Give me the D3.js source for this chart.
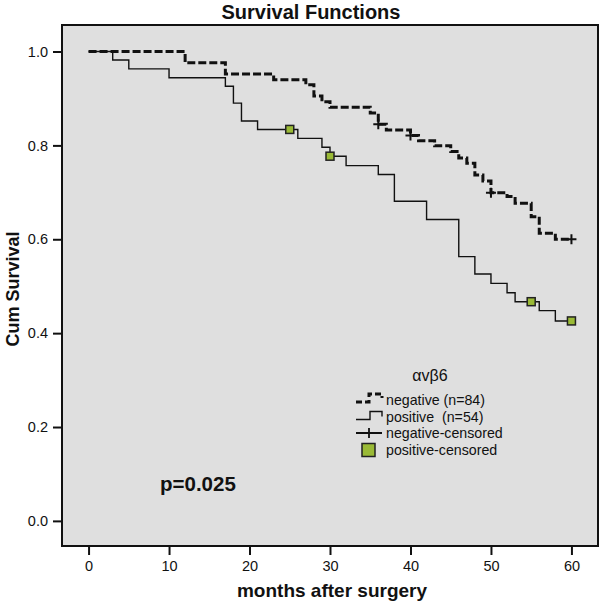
<!DOCTYPE html>
<html>
<head>
<meta charset="utf-8">
<script src="https://cdn.jsdelivr.net/npm/d3@7"></script>
<style>
  html, body { margin: 0; padding: 0; background: #ffffff; }
  svg { display: block; }
  text { font-family: Arial, "Liberation Sans", Helvetica, sans-serif; fill: #111; }
</style>
</head>
<body>
<svg id="chart" width="600" height="602"></svg>
<script>
// ---- data ----
const negTimes = [0, 12, 17, 23, 27, 28, 29, 30, 35, 36, 37, 40, 41, 43, 45, 46, 47, 48, 49, 50, 52, 53, 55, 56, 58];
const negSurv  = [1.0, 0.976, 0.952, 0.940, 0.929, 0.905, 0.893, 0.881, 0.869, 0.845, 0.833, 0.821, 0.810, 0.799, 0.787, 0.773, 0.762, 0.737, 0.724, 0.699, 0.691, 0.677, 0.648, 0.613, 0.600];
const negEnd = 60;
const negCensTimes = [36, 40, 50, 60];
const negCensSurv  = [0.845, 0.821, 0.699, 0.600];

const posTimes = [0, 3, 5, 10, 17, 18, 19, 21, 26, 29, 30, 32, 36, 38, 42, 46, 48, 50, 52, 53, 56, 58];
const posSurv  = [1.0, 0.982, 0.963, 0.944, 0.926, 0.890, 0.852, 0.834, 0.815, 0.796, 0.777, 0.757, 0.738, 0.681, 0.642, 0.563, 0.526, 0.506, 0.486, 0.467, 0.448, 0.426];
const posEnd = 60;
const posCensTimes = [25, 30, 55, 60];
const posCensSurv  = [0.834, 0.777, 0.467, 0.426];

const xTicks = [0, 10, 20, 30, 40, 50, 60];
const yTicks = [0.0, 0.2, 0.4, 0.6, 0.8, 1.0];

const titleText = "Survival Functions";
const xTitle = "months after surgery";
const yTitle = "Cum Survival";
const legendTitle = "\u03B1v\u03B26";
const legendLabels = ["negative (n=84)", "positive\u00A0 (n=54)", "negative-censored", "positive-censored"];
const pText = "p=0.025";

// ---- layout ----
const L = 62, R = 598, T = 25, B = 546;
const svg = d3.select("#chart");

const x = d3.scaleLinear().domain([-3.3, 63.3]).range([L, R]);
const y = d3.scaleLinear().domain([-0.0535, 1.0565]).range([B, T]);

const bg = "#dfdfdf";
const green = "#9aba36";

// plot background
svg.append("rect").attr("x", L).attr("y", T).attr("width", R - L).attr("height", B - T)
  .attr("fill", bg);

// axes
const yAxis = d3.axisLeft(y).tickValues(yTicks).tickFormat(d3.format(".1f")).tickSize(9).tickPadding(5);
const gy = svg.append("g").attr("transform", `translate(${L},0)`).call(yAxis);
const xAxis = d3.axisBottom(x).tickValues(xTicks).tickFormat(d3.format("d")).tickSize(9).tickPadding(6);
const gx = svg.append("g").attr("transform", `translate(0,${B})`).call(xAxis);
[gx, gy].forEach(g => {
  g.select(".domain").remove();
  g.selectAll(".tick line").attr("stroke", "#111").attr("stroke-width", 2);
  g.selectAll(".tick text").attr("font-size", 14.5).attr("fill", "#111")
    .style("font-family", "Arial, 'Liberation Sans', sans-serif");
});
gx.selectAll(".tick text").attr("dy", "0.72em");

// step curves
const line = d3.line().x(d => x(d[0])).y(d => y(d[1])).curve(d3.curveStepAfter);
const negPts = negTimes.map((t, i) => [t, negSurv[i]]).concat([[negEnd, negSurv[negSurv.length - 1]]]);
const posPts = posTimes.map((t, i) => [t, posSurv[i]]).concat([[posEnd, posSurv[posSurv.length - 1]]]);

svg.append("path").datum(posPts).attr("d", line)
  .attr("fill", "none").attr("stroke", "#111").attr("stroke-width", 1.4);
svg.append("path").datum(negPts).attr("d", line)
  .attr("fill", "none").attr("stroke", "#111").attr("stroke-width", 3)
  .attr("stroke-dasharray", "8,3");

// censor marks: negative (+)
const negC = negCensTimes.map((t, i) => [t, negCensSurv[i]]);
svg.append("g").selectAll("path").data(negC).join("path")
  .attr("d", d => `M${x(d[0]) - 5},${y(d[1])}H${x(d[0]) + 5}M${x(d[0])},${y(d[1]) - 5}V${y(d[1]) + 5}`)
  .attr("stroke", "#111").attr("stroke-width", 2).attr("fill", "none");

// censor marks: positive (squares)
const posC = posCensTimes.map((t, i) => [t, posCensSurv[i]]);
svg.append("g").selectAll("rect").data(posC).join("rect")
  .attr("x", d => x(d[0]) - 4).attr("y", d => y(d[1]) - 4)
  .attr("width", 8).attr("height", 8)
  .attr("fill", green).attr("stroke", "#222").attr("stroke-width", 1.5);

// frame
svg.append("rect").attr("x", L).attr("y", T).attr("width", R - L).attr("height", B - T)
  .attr("fill", "none").attr("stroke", "#111").attr("stroke-width", 2);

// titles
svg.append("text").attr("x", 311).attr("y", 19).attr("text-anchor", "middle")
  .attr("font-size", 20).attr("font-weight", "bold").text(titleText);
svg.append("text").attr("x", 332).attr("y", 597).attr("text-anchor", "middle")
  .attr("font-size", 19).attr("font-weight", "bold").text(xTitle);
svg.append("text").attr("transform", "translate(19,289) rotate(-90)").attr("text-anchor", "middle")
  .attr("font-size", 18).attr("font-weight", "bold").text(yTitle);

// p-value
svg.append("text").attr("x", 160).attr("y", 491)
  .attr("font-size", 20.5).attr("font-weight", "bold").text(pText);

// legend
const lg = svg.append("g");
lg.append("text").attr("x", 430).attr("y", 381).attr("text-anchor", "middle")
  .attr("font-size", 16).text(legendTitle);
const rowY = [400, 416.5, 433, 450];
lg.selectAll("text.lab").data(legendLabels).join("text").attr("class", "lab")
  .attr("x", 386).attr("y", (d, i) => rowY[i] + 5).attr("font-size", 14.2)
  .style("white-space", "pre").text(d => d);
// negative symbol
lg.append("path").attr("d", `M356,${rowY[0] + 2}H369V${rowY[0] - 6}H382V${rowY[0] - 2}`)
  .attr("fill", "none").attr("stroke", "#111").attr("stroke-width", 3).attr("stroke-dasharray", "6,3");
// positive symbol
lg.append("path").attr("d", `M356,${rowY[1] + 3}H370V${rowY[1] - 5}H382V${rowY[1]}`)
  .attr("fill", "none").attr("stroke", "#111").attr("stroke-width", 1.4);
// negative-censored
lg.append("path").attr("d", `M356,${rowY[2]}H382M369,${rowY[2] - 5}V${rowY[2] + 5}`)
  .attr("fill", "none").attr("stroke", "#111").attr("stroke-width", 1.8);
// positive-censored
lg.append("rect").attr("x", 362).attr("y", rowY[3] - 6.5).attr("width", 13).attr("height", 13)
  .attr("fill", green).attr("stroke", "#222").attr("stroke-width", 1.5);
</script>
</body>
</html>
